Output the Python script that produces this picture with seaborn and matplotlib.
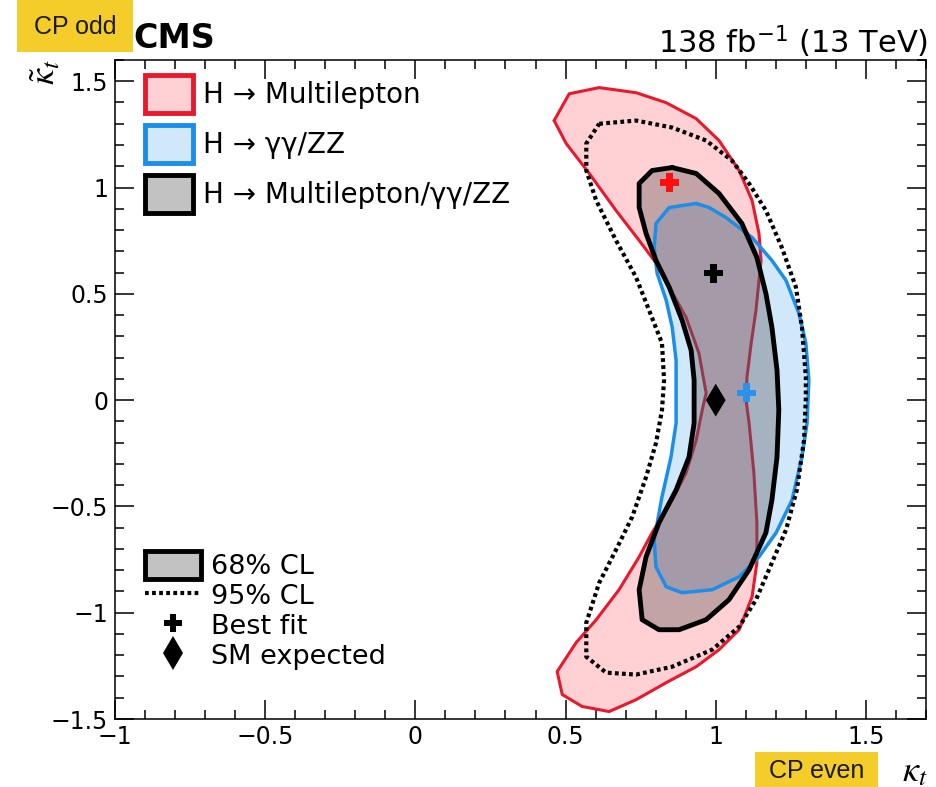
import numpy as np
import matplotlib
matplotlib.use("Agg")
import matplotlib.pyplot as plt
import seaborn as sns
from matplotlib.patches import Patch, Rectangle
from matplotlib.lines import Line2D
from matplotlib.ticker import FixedLocator, FixedFormatter, MultipleLocator

# ---------------- data (kappa_t, kappa_t tilde) ----------------
# H -> Multilepton, 68% CL contour
ml_kt = [0.462, 0.512, 0.612, 0.735, 0.835, 0.935, 1.011, 1.078, 1.121, 1.144, 1.151, 1.144,
         1.134, 1.118, 1.104, 1.101, 1.111, 1.127, 1.137, 1.137, 1.121, 1.078, 1.011, 0.935,
         0.835, 0.735, 0.645, 0.555, 0.489, 0.472, 0.535, 0.602, 0.678, 0.745, 0.788, 0.855,
         0.901, 0.935, 0.955, 0.968, 0.944, 0.901, 0.845, 0.795, 0.745, 0.668, 0.579, 0.502]
ml_ktt = [1.315, 1.441, 1.470, 1.446, 1.399, 1.324, 1.221, 1.080, 0.939, 0.784, 0.657, 0.563,
          0.423, 0.268, 0.108, 0.000, -0.108, -0.343, -0.577, -0.765, -0.925, -1.080, -1.174, -1.254,
          -1.329, -1.409, -1.465, -1.441, -1.385, -1.277, -1.141, -1.033, -0.892, -0.737, -0.624, -0.470,
          -0.343, -0.188, -0.047, 0.033, 0.221, 0.390, 0.531, 0.657, 0.751, 0.892, 1.066, 1.207]

# H -> gamma gamma / ZZ, 68% CL contour
gz_kt = [0.935, 0.845, 0.801, 0.795, 0.805, 0.835, 0.855, 0.868, 0.868, 0.868, 0.851, 0.821,
         0.795, 0.801, 0.835, 0.888, 0.988, 1.078, 1.144, 1.201, 1.254, 1.287, 1.304, 1.307,
         1.310, 1.300, 1.277, 1.234, 1.187, 1.121, 1.034, 0.978]
gz_ktt = [0.925, 0.906, 0.831, 0.718, 0.596, 0.470, 0.343, 0.188, 0.033, -0.108, -0.268, -0.455,
          -0.657, -0.784, -0.878, -0.906, -0.892, -0.831, -0.737, -0.624, -0.470, -0.268, -0.108, 0.000,
          0.094, 0.268, 0.408, 0.563, 0.657, 0.765, 0.859, 0.906]

# Combination, 68% CL contour
cb68_kt = [0.855, 0.788, 0.745, 0.745, 0.768, 0.801, 0.845, 0.888, 0.918, 0.928, 0.928, 0.911,
           0.868, 0.811, 0.768, 0.745, 0.755, 0.811, 0.878, 0.968, 1.044, 1.111, 1.167, 1.187,
           1.204, 1.210, 1.204, 1.187, 1.167, 1.137, 1.087, 1.011, 0.935]
cb68_ktt = [1.094, 1.080, 1.019, 0.906, 0.784, 0.657, 0.531, 0.376, 0.235, 0.094, -0.108, -0.268,
            -0.423, -0.577, -0.737, -0.892, -1.033, -1.080, -1.080, -1.033, -0.939, -0.798, -0.624, -0.470,
            -0.268, -0.047, 0.141, 0.343, 0.502, 0.671, 0.831, 0.972, 1.066]

# Combination, 95% CL contour
cb95_kt = [0.612, 0.735, 0.855, 0.968, 1.054, 1.111, 1.167, 1.220, 1.267, 1.287, 1.300, 1.300,
           1.294, 1.270, 1.234, 1.187, 1.134, 1.078, 0.988, 0.855, 0.735, 0.635, 0.569, 0.569,
           0.612, 0.668, 0.722, 0.768, 0.801, 0.821, 0.828, 0.821, 0.778, 0.735, 0.668, 0.602,
           0.569, 0.569]
cb95_ktt = [1.300, 1.315, 1.282, 1.221, 1.127, 1.019, 0.892, 0.718, 0.531, 0.343, 0.108, 0.014,
            -0.188, -0.423, -0.610, -0.765, -0.939, -1.066, -1.174, -1.254, -1.291, -1.282, -1.207, -1.047,
            -0.859, -0.704, -0.549, -0.362, -0.202, -0.047, 0.094, 0.268, 0.423, 0.577, 0.751, 0.939,
            1.080, 1.207]

# Best-fit points and SM expectation
bestfit_ml = (0.846, 1.024)
bestfit_gz = (1.102, 0.034)
bestfit_cb = (0.992, 0.597)
sm_point = (1.0, 0.0)

x_ticks = [-1, -0.5, 0, 0.5, 1, 1.5]
x_tick_labels = ["\u22121", "\u22120.5", "0", "0.5", "1", "1.5"]
y_ticks = [-1.5, -1, -0.5, 0, 0.5, 1, 1.5]
y_tick_labels = ["\u22121.5", "\u22121", "\u22120.5", "0", "0.5", "1", "1.5"]

legend1_labels = ["H \u2192 Multilepton", "H \u2192 \u03b3\u03b3/ZZ", "H \u2192 Multilepton/\u03b3\u03b3/ZZ"]
legend2_labels = ["68% CL", "95% CL", "Best fit", "SM expected"]

# ---------------- style ----------------
sns.set_theme(style="ticks")
plt.rcParams["font.family"] = ["DejaVu Sans"]
plt.rcParams["text.color"] = "black"
plt.rcParams["axes.labelcolor"] = "black"
plt.rcParams["xtick.color"] = "black"
plt.rcParams["ytick.color"] = "black"
plt.rcParams["axes.edgecolor"] = "black"

red_edge = "#e8192c"
red_fill = (1.0, 0.0, 0.08, 0.18)
blue_edge = "#1a8ee8"
blue_fill = (0.0, 0.51, 0.90, 0.18)
grey_fill = (0.32, 0.32, 0.32, 0.35)
yellow = "#f4cd2a"

fig = plt.figure(figsize=(9.36, 7.87), dpi=100)
ax = fig.add_axes([0.1229, 0.0864, 0.8664, 0.8374])


def closed(a):
    a = np.asarray(a, dtype=float)
    return np.r_[a, a[0]]


# fills and contour lines
ax.fill(ml_kt, ml_ktt, facecolor=red_fill, edgecolor="none", zorder=1)
sns.lineplot(x=closed(ml_kt), y=closed(ml_ktt), sort=False, estimator=None,
             color=red_edge, lw=2.2, ax=ax, zorder=2)
ax.fill(gz_kt, gz_ktt, facecolor=blue_fill, edgecolor="none", zorder=3)
ax.fill(cb68_kt, cb68_ktt, facecolor=grey_fill, edgecolor="none", zorder=4)
sns.lineplot(x=closed(gz_kt), y=closed(gz_ktt), sort=False, estimator=None,
             color=blue_edge, lw=2.5, ax=ax, zorder=5)
sns.lineplot(x=closed(cb68_kt), y=closed(cb68_ktt), sort=False, estimator=None,
             color="black", lw=3.5, ax=ax, zorder=6)
ax.plot(closed(cb95_kt), closed(cb95_ktt), color="black", lw=3.0,
        linestyle=(0, (0.9, 0.8)), zorder=7)

# markers
sns.scatterplot(x=[bestfit_ml[0]], y=[bestfit_ml[1]], marker="P", s=190, color="#ff1010",
                edgecolor="none", linewidth=0, ax=ax, zorder=9, legend=False)
sns.scatterplot(x=[bestfit_gz[0]], y=[bestfit_gz[1]], marker="P", s=190, color="#2a92ea",
                edgecolor="none", linewidth=0, ax=ax, zorder=9, legend=False)
sns.scatterplot(x=[bestfit_cb[0]], y=[bestfit_cb[1]], marker="P", s=190, color="black",
                edgecolor="none", linewidth=0, ax=ax, zorder=9, legend=False)
sns.scatterplot(x=[sm_point[0]], y=[sm_point[1]], marker="d", s=280, color="black",
                edgecolor="none", linewidth=0, ax=ax, zorder=9, legend=False)

# axes
ax.set_xlim(-1, 1.7)
ax.set_ylim(-1.5, 1.6)
ax.xaxis.set_major_locator(FixedLocator(x_ticks))
ax.xaxis.set_major_formatter(FixedFormatter(x_tick_labels))
ax.yaxis.set_major_locator(FixedLocator(y_ticks))
ax.yaxis.set_major_formatter(FixedFormatter(y_tick_labels))
ax.xaxis.set_minor_locator(MultipleLocator(0.1))
ax.yaxis.set_minor_locator(MultipleLocator(0.1))
ax.tick_params(which="both", direction="in", top=True, right=True, width=1.1, color="black",
               labelcolor="black")
ax.tick_params(which="major", length=13.5)
ax.tick_params(which="minor", length=6.8)
ax.tick_params(axis="x", labelsize=17, pad=4)
ax.tick_params(axis="y", labelsize=17, pad=5)
for sp in ax.spines.values():
    sp.set_linewidth(1.1)
    sp.set_color("black")
ax.set_xlabel("")
ax.set_ylabel("")
ax.grid(False)

ax.text(-0.086, 0.982, r"$\tilde{\kappa}_t$", transform=ax.transAxes, rotation=90,
        ha="center", va="center", fontsize=26, math_fontfamily="stix")
ax.text(0.986, -0.079, r"$\kappa_t$", transform=ax.transAxes,
        ha="center", va="center", fontsize=26, math_fontfamily="stix")

# legends
h1 = [Patch(facecolor=red_fill, edgecolor=red_edge, lw=3.5),
      Patch(facecolor=blue_fill, edgecolor=blue_edge, lw=3.5),
      Patch(facecolor=grey_fill, edgecolor="black", lw=3.5)]
leg1 = ax.legend(h1, legend1_labels, loc="upper left", bbox_to_anchor=(0.037, 0.977),
                 frameon=False, fontsize=20, handlelength=1.73, handleheight=1.72,
                 labelspacing=0.43, handletextpad=0.35, borderaxespad=0, borderpad=0)
ax.add_artist(leg1)

h2 = [Patch(facecolor=grey_fill, edgecolor="black", lw=3.5),
      Line2D([], [], color="black", lw=3.0, linestyle=(0, (0.9, 0.8))),
      Line2D([], [], color="black", marker="P", ls="none", markersize=13, markeredgewidth=0),
      Line2D([], [], color="black", marker="d", ls="none", markersize=17, markeredgewidth=0)]
ax.legend(h2, legend2_labels, loc="upper left", bbox_to_anchor=(0.037, 0.255),
          frameon=False, fontsize=19.5, handlelength=2.05, handleheight=1.2,
          labelspacing=0.04, handletextpad=0.38, borderaxespad=0, borderpad=0)

# header texts
fig.text(133 / 936, 1 - 48 / 787, "CMS", fontsize=24, fontweight="bold",
         ha="left", va="baseline")
fig.text(928 / 936, 1 - 53 / 787, r"138 fb$^{\mathregular{-1}}$ (13 TeV)", fontsize=22,
         ha="right", va="baseline", math_fontfamily="dejavusans")

# yellow annotation boxes
fig.add_artist(Rectangle((17 / 936, 1 - 52 / 787), 116 / 936, 52 / 787,
                         transform=fig.transFigure, facecolor=yellow, edgecolor="none", zorder=5))
fig.text(75 / 936, 1 - 27 / 787, "CP odd", fontsize=18, ha="center", va="center",
         family=["Liberation Sans"], color="#1a1a1a", zorder=10)
fig.add_artist(Rectangle((755 / 936, 0), 123 / 936, 35 / 787,
                         transform=fig.transFigure, facecolor=yellow, edgecolor="none", zorder=5))
fig.text(816.5 / 936, 16 / 787, "CP even", fontsize=18, ha="center", va="center",
         family=["Liberation Sans"], color="#1a1a1a", zorder=10)

fig.savefig("out.png", dpi=100)
